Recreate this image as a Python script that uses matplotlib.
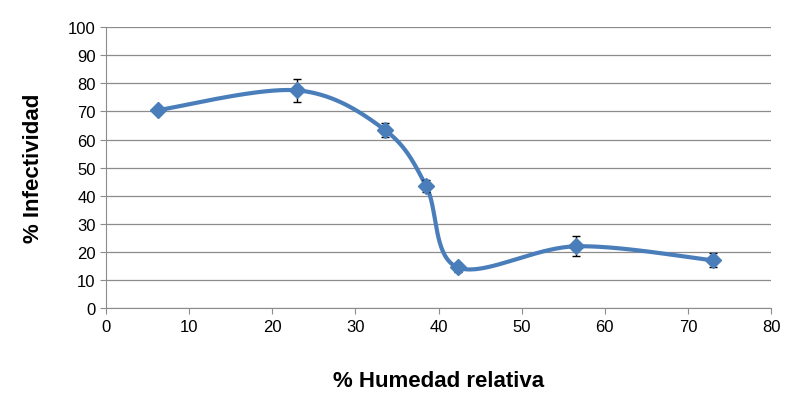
import numpy as np
import matplotlib
matplotlib.use('Agg')
import matplotlib.pyplot as plt

humedad = [6.3, 23.0, 33.5, 38.5, 42.3, 56.5, 73.0]
infectividad = [70.5, 77.5, 63.5, 43.5, 14.5, 22.0, 17.0]
error = [0.0, 4.0, 2.5, 2.0, 1.5, 3.5, 2.5]

def excel_smooth(x, y, n=40):
    # Bezier segments with Catmull-Rom style control points (Excel smoothing)
    x = np.asarray(x); y = np.asarray(y)
    px = np.concatenate([[x[0]], x, [x[-1]]])
    py = np.concatenate([[y[0]], y, [y[-1]]])
    xs, ys = [], []
    t = np.linspace(0, 1, n)
    for i in range(1, len(x)):
        p0 = np.array([px[i], py[i]]); p3 = np.array([px[i + 1], py[i + 1]])
        p1 = p0 + (p3 - np.array([px[i - 1], py[i - 1]])) / 6
        p2 = p3 - (np.array([px[i + 2], py[i + 2]]) - p0) / 6
        b = ((1 - t)**3)[:, None] * p0 + (3 * (1 - t)**2 * t)[:, None] * p1 \
            + (3 * (1 - t) * t**2)[:, None] * p2 + (t**3)[:, None] * p3
        xs.extend(b[:, 0]); ys.extend(b[:, 1])
    return xs, ys

plt.rcParams['font.family'] = ['Liberation Sans', 'DejaVu Sans']
fig = plt.figure(figsize=(8.04, 4.02), dpi=100)
ax = fig.add_axes([0.132, 0.231, 0.827, 0.699])

color = '#4a7ebb'
sx, sy = excel_smooth(humedad, infectividad)
ax.plot(sx, sy, color=color, lw=3, zorder=3)
ax.errorbar(humedad, infectividad, yerr=error, fmt='D', color=color, ms=8,
            ecolor='black', elinewidth=1, capsize=3, zorder=4)

ax.set_xlim(0, 80)
ax.set_ylim(0, 100)
ax.set_xticks(range(0, 81, 10))
ax.set_yticks(range(0, 101, 10))
ax.grid(axis='y', color='#8c8c8c', lw=0.9)
ax.set_axisbelow(True)
for s in ['top', 'right']:
    ax.spines[s].set_visible(False)
for s in ['left', 'bottom']:
    ax.spines[s].set_color('#8c8c8c')
ax.tick_params(colors='#8c8c8c', labelcolor='black', labelsize=12, length=4)
ax.set_xlabel('% Humedad relativa', fontsize=16, fontweight='bold', labelpad=26)
ax.set_ylabel('% Infectividad', fontsize=16, fontweight='bold', labelpad=17)

fig.savefig('out.png', dpi=100)
